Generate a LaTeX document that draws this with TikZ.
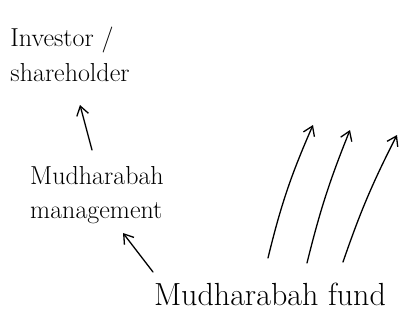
\documentclass[tikz,border=0pt]{standalone}
\usetikzlibrary{arrows.meta,calc}
\begin{document}
\begin{tikzpicture}[x=1pt,y=-1pt,
  lbl/.style={inner sep=0pt, align=left, text=black},
  arr/.style={draw=black, line width=1.3pt, line cap=round,
    -{Straight Barb[length=9pt,width=12pt,line width=1.3pt]}}]
\fill[white] (0,0) rectangle (400,325);
\useasboundingbox (0,0) rectangle (400,325);
\node[lbl, font=\fontsize{26}{35}\selectfont] (inv) at (70,54) {Investor /\\shareholder};
\node[lbl, font=\fontsize{26}{34}\selectfont] (mgmt) at (97,195) {Mudharabah\\management};
\node[lbl, font=\fontsize{32}{36}\selectfont] (fund) at (270,294) {Mudharabah fund};
\coordinate (t1) at (313,125);
\coordinate (t2) at (350,130);
\coordinate (t3) at (397,135);
\draw[arr] ($(mgmt.center)+(-5,-45)$) -- ($(inv.center)+(10,51)$);
\draw[arr] ($(fund.center)+(-117,-22)$) -- ($(mgmt.center)+(26,38)$);
\draw[arr] ($(fund.center)+(-2,-36)$) to[bend left=5] (t1);
\draw[arr] ($(fund.center)+(37,-31)$) to[bend left=4] (t2);
\draw[arr] ($(fund.center)+(73,-32)$) to[bend left=4] (t3);
\end{tikzpicture}
\end{document}
